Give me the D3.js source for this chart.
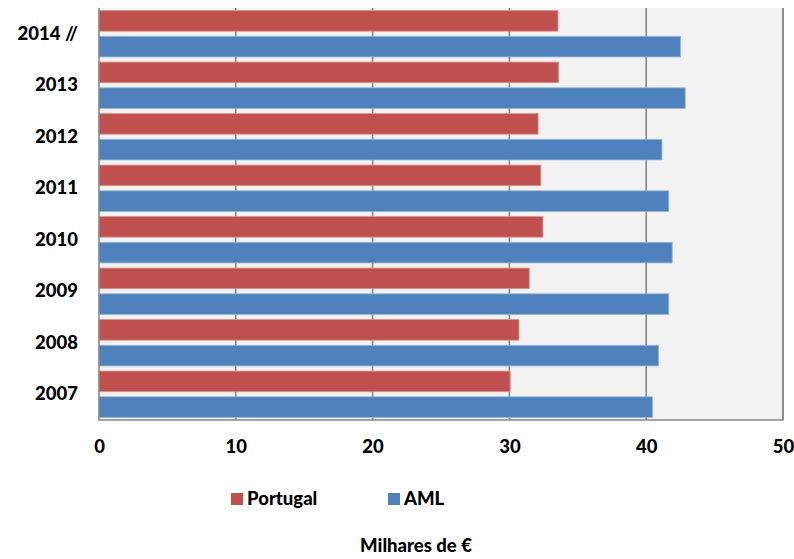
<!DOCTYPE html>
<html>
<head>
<meta charset="utf-8">
<script src="https://cdn.jsdelivr.net/npm/d3@7"></script>
<style>
  html, body { margin: 0; padding: 0; background: #ffffff; }
  svg { display: block; }
  text { font-family: Lato, "Open Sans", sans-serif; font-weight: 900; fill: #000; }
</style>
</head>
<body>
<svg id="chart" width="794" height="559"></svg>
<script>
// Categories, top to bottom
const years = ["2014 //", "2013", "2012", "2011", "2010", "2009", "2008", "2007"];
// Series values (thousands of euros)
const portugal = [33.55, 33.6, 32.1, 32.3, 32.45, 31.45, 30.7, 30.05];
const aml = [42.5, 42.85, 41.15, 41.65, 41.9, 41.65, 40.9, 40.45];
const seriesNames = ["Portugal", "AML"];
const seriesColors = ["#c0504d", "#4f81bd"];
const seriesStrokes = ["#d99694", "#95b3d7"];
const xTicks = [0, 10, 20, 30, 40, 50];
const axisTitle = "Milhares de €";

const FONT = "Lato, 'Open Sans', sans-serif";
const FSIZE = "18.5px";

const svg = d3.select("#chart");
const plot = { left: 99, right: 783, top: 8, bottom: 420 };

const x = d3.scaleLinear().domain([0, 50]).range([plot.left, plot.right]);
const y0 = d3.scaleBand().domain(years).range([plot.top, plot.bottom]).padding(0);
const y1 = d3.scaleBand().domain(seriesNames).range([0, y0.bandwidth()])
  .paddingInner(0.2).paddingOuter(0.1);

// Plot area background
svg.append("rect")
  .attr("x", plot.left).attr("y", plot.top)
  .attr("width", plot.right - plot.left).attr("height", plot.bottom - plot.top)
  .attr("fill", "#f2f2f2");

// Vertical gridlines
svg.append("g").selectAll("line")
  .data(xTicks.slice(1))
  .join("line")
  .attr("x1", d => x(d)).attr("x2", d => x(d))
  .attr("y1", plot.top).attr("y2", plot.bottom)
  .attr("stroke", "#878787").attr("stroke-width", 1.6);

// Bars
const rows = years.map((yr, i) => ({ yr, vals: [portugal[i], aml[i]] }));
const groups = svg.append("g").selectAll("g")
  .data(rows)
  .join("g")
  .attr("transform", d => `translate(0,${y0(d.yr)})`);

groups.selectAll("rect")
  .data(d => d.vals.map((v, k) => ({ name: seriesNames[k], v, k })))
  .join("rect")
  .attr("x", x(0))
  .attr("y", d => y1(d.name))
  .attr("width", d => x(d.v) - x(0))
  .attr("height", y1.bandwidth())
  .attr("fill", d => seriesColors[d.k])
  .attr("stroke", d => seriesStrokes[d.k])
  .attr("stroke-width", 0.8);

// Axis lines (left, bottom, right)
svg.append("path")
  .attr("d", `M${plot.left},${plot.top}V${plot.bottom}H${plot.right}V${plot.top}`)
  .attr("fill", "none").attr("stroke", "#878787").attr("stroke-width", 1.6);

// X axis labels
const xAxis = d3.axisBottom(x).tickValues(xTicks).tickSize(0).tickPadding(20);
const gx = svg.append("g").attr("transform", `translate(0,${plot.bottom})`).call(xAxis);
gx.select(".domain").remove();
gx.selectAll("text")
  .style("font-family", FONT)
  .style("font-weight", "900")
  .style("font-size", FSIZE)
  .attr("fill", "#000");

// Y axis labels
const yAxis = d3.axisLeft(y0).tickSize(0).tickPadding(21);
const gy = svg.append("g").attr("transform", `translate(${plot.left},0)`).call(yAxis);
gy.select(".domain").remove();
gy.selectAll("text")
  .style("font-family", FONT)
  .style("font-weight", "900")
  .style("font-size", FSIZE)
  .attr("fill", "#000");

// Legend
const legendPos = [231, 388];
const legend = svg.append("g").selectAll("g")
  .data(seriesNames)
  .join("g")
  .attr("transform", (d, i) => `translate(${legendPos[i]},493)`);
legend.append("rect").attr("width", 12).attr("height", 12)
  .attr("fill", (d, i) => seriesColors[i]);
legend.append("text").attr("x", 16).attr("y", 12)
  .style("font-size", FSIZE).text(d => d);

// Axis title
svg.append("text")
  .attr("x", 416).attr("y", 552)
  .attr("text-anchor", "middle")
  .style("font-size", FSIZE)
  .text(axisTitle);
</script>
</body>
</html>
